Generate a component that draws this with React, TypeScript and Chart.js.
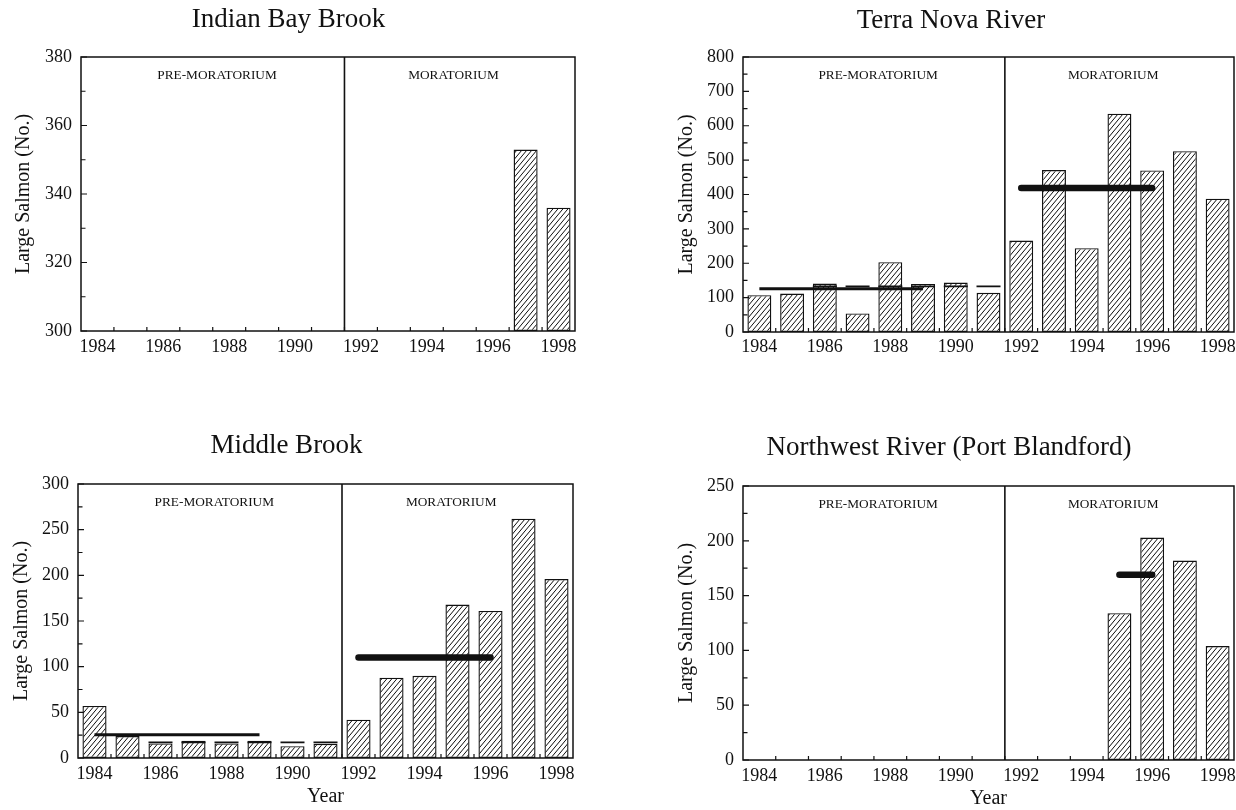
import { useEffect, useRef } from "react";
import { Chart, registerables } from "chart.js";

Chart.register(...registerables);

const SERIF = "'Liberation Serif', 'Times New Roman', Times, serif";
const INK = "#111";

// ---- categories and labels ----
const years = [
  "1984", "1985", "1986", "1987", "1988", "1989", "1990", "1991",
  "1992", "1993", "1994", "1995", "1996", "1997", "1998",
];
const yearTickLabels = ["1984", "1986", "1988", "1990", "1992", "1994", "1996", "1998"];
const periodLabels = ["PRE-MORATORIUM", "MORATORIUM"];
const lastPreMoratoriumYear = "1991";
const yAxisTitle = "Large Salmon (No.)";
const xAxisTitle = "Year";

// ---- large salmon counts per year ----
const indianBayLarge = [null, null, null, null, null, null, null, null, null, null, null, null, null, 353, 336];
const terraNovaLarge = [107, 112, 141, 54, 203, 140, 144, 114, 266, 471, 244, 635, 470, 526, 388];
const middleBrookLarge = [57, 24, 16, 19, 16, 19, 13, 15.5, 42, 88, 90, 168, 161, 262, 196];
const northwestLarge = [null, null, null, null, null, null, null, null, null, null, null, 134, 203, 182, 104];

// ---- period means (from year, to year, mean) ----
const terraNovaMeans = [
  { from: "1984", to: "1989", value: 126 },
  { from: "1992", to: "1996", value: 419 },
];
const middleBrookMeans = [
  { from: "1984", to: "1989", value: 25.5 },
  { from: "1992", to: "1996", value: 110 },
];
const northwestMeans = [{ from: "1995", to: "1996", value: 169 }];

// 1986-1991 mean, marked on each of those years
const lateYears = ["1986", "1987", "1988", "1989", "1990", "1991"];
const terraNovaLateMean = 133;
const middleBrookLateMean = 17;

// ---- value axes: [min, max, step] ----
const indianBayAxis = [300, 380, 20];
const terraNovaAxis = [0, 800, 100];
const middleBrookAxis = [0, 300, 50];
const northwestAxis = [0, 250, 50];

type Mean = { from: string; to: string; value: number };
type Panel = {
  id: string;
  title: string;
  counts: (number | null)[];
  axis: number[];
  means: Mean[];
  lateMean?: number;
  showYear: boolean;
  // layout (page pixels)
  box: { x: number; y: number; w: number; h: number };
  area: { l: number; t: number; r: number; b: number };
  titleY: number;
  yTitleX: number;
  xLabelY: number;
  yearY?: number;
};

const panels: Panel[] = [
  {
    id: "indian",
    title: "Indian Bay Brook",
    counts: indianBayLarge,
    axis: indianBayAxis,
    means: [],
    showYear: false,
    box: { x: 2, y: 0, w: 600, h: 400 },
    area: { l: 81, t: 57, r: 575, b: 331 },
    titleY: 19.5,
    yTitleX: 23.3,
    xLabelY: 347,
  },
  {
    id: "terra",
    title: "Terra Nova River",
    counts: terraNovaLarge,
    axis: terraNovaAxis,
    means: terraNovaMeans,
    lateMean: terraNovaLateMean,
    showYear: false,
    box: { x: 668, y: 0, w: 568, h: 400 },
    area: { l: 743, t: 57, r: 1234, b: 332 },
    titleY: 20.5,
    yTitleX: 686.7,
    xLabelY: 347,
  },
  {
    id: "middle",
    title: "Middle Brook",
    counts: middleBrookLarge,
    axis: middleBrookAxis,
    means: middleBrookMeans,
    lateMean: middleBrookLateMean,
    showYear: true,
    box: { x: 0, y: 405, w: 600, h: 405 },
    area: { l: 78, t: 484, r: 573, b: 758 },
    titleY: 446,
    yTitleX: 21.7,
    xLabelY: 774.5,
    yearY: 797,
  },
  {
    id: "northwest",
    title: "Northwest River (Port Blandford)",
    counts: northwestLarge,
    axis: northwestAxis,
    means: northwestMeans,
    showYear: true,
    box: { x: 664, y: 405, w: 572, h: 405 },
    area: { l: 743, t: 486, r: 1234, b: 760 },
    titleY: 448,
    yTitleX: 686.7,
    xLabelY: 776.5,
    yearY: 798.5,
  },
];

// Diagonal "/" hatch used as the bar fill
function makeHatch(ctxSource: HTMLCanvasElement): CanvasPattern | string {
  const tile = document.createElement("canvas");
  const w = 5;
  const h = 6;
  tile.width = w;
  tile.height = h;
  const g = tile.getContext("2d");
  if (!g) return "#fff";
  g.fillStyle = "#fff";
  g.fillRect(0, 0, w, h);
  g.strokeStyle = "#000";
  g.lineWidth = 0.95;
  g.beginPath();
  // lines y = n*h - (h/w)*x, extended past the tile so the joins are seamless
  for (let n = 0; n <= 2; n++) {
    g.moveTo(-w, (n + 1) * h);
    g.lineTo(2 * w, (n - 2) * h);
  }
  g.stroke();
  const ctx = ctxSource.getContext("2d");
  const p = ctx ? ctx.createPattern(tile, "repeat") : null;
  return p || "#fff";
}

// Frame, inward tick marks, period divider and period names
const framePlugin = {
  id: "salmonFrame",
  afterDraw(chart: any) {
    const { ctx, chartArea: a } = chart;
    const xs = chart.scales.x;
    const ys = chart.scales.y;
    ctx.save();
    ctx.strokeStyle = INK;
    ctx.lineWidth = 1.5;
    ctx.strokeRect(a.left, a.top, a.right - a.left, a.bottom - a.top);

    ctx.lineWidth = 1.2;
    ctx.beginPath();
    const vals: number[] = ys.ticks.map((t: any) => t.value);
    vals.forEach((v) => {
      const py = ys.getPixelForValue(v);
      ctx.moveTo(a.left, py);
      ctx.lineTo(a.left + 6, py);
    });
    for (let i = 0; i < vals.length - 1; i++) {
      const py = ys.getPixelForValue((vals[i] + vals[i + 1]) / 2);
      ctx.moveTo(a.left, py);
      ctx.lineTo(a.left + 4.5, py);
    }
    for (let i = 0; i < years.length - 1; i++) {
      const px = (xs.getPixelForValue(i) + xs.getPixelForValue(i + 1)) / 2;
      ctx.moveTo(px, a.bottom);
      ctx.lineTo(px, a.bottom - 4);
    }
    ctx.stroke();

    const k = years.indexOf(lastPreMoratoriumYear);
    const sx = (xs.getPixelForValue(k) + xs.getPixelForValue(k + 1)) / 2;
    ctx.lineWidth = 1.6;
    ctx.beginPath();
    ctx.moveTo(sx, a.top);
    ctx.lineTo(sx, a.bottom);
    ctx.stroke();

    ctx.fillStyle = INK;
    ctx.font = `13.3px ${SERIF}`;
    ctx.textAlign = "center";
    ctx.textBaseline = "middle";
    ctx.fillText(periodLabels[0], xs.getPixelForValue(3.63), a.top + 18.5);
    ctx.fillText(periodLabels[1], xs.getPixelForValue(10.81), a.top + 18.5);
    ctx.restore();
  },
};

function buildConfig(p: Panel, hatch: CanvasPattern | string): any {
  const { box, area } = p;
  const T = area.t - box.y;
  const B = area.b - box.y;
  const titleLine = 27 * 1.2;
  const titlePadTop = p.titleY - box.y - titleLine / 2;
  const titlePadBottom = T - titlePadTop - titleLine;
  const yTitlePad = p.yTitleX - box.x - 12;
  const yAxisWidth = area.l - box.x;
  const xAxisHeight = box.h - B;
  const xTickPad = p.xLabelY - area.b - 10.8;
  const yearPad = p.yearY !== undefined ? box.h - (p.yearY - box.y) - 12 : 0;
  const [yMin, yMax, yStep] = p.axis;

  const meanSets = p.means.map((m) => {
    const post = years.indexOf(m.from) > years.indexOf(lastPreMoratoriumYear);
    return {
      type: "line",
      data: [
        { x: m.from, y: m.value },
        { x: m.to, y: m.value },
      ],
      borderColor: INK,
      borderWidth: post ? 6.5 : 3,
      borderCapStyle: post ? "round" : "butt",
      pointRadius: 0,
      pointHoverRadius: 0,
      fill: false,
      tension: 0,
      order: 0,
    };
  });

  const lateSets =
    p.lateMean !== undefined
      ? [
          {
            type: "line",
            data: lateYears.map((y) => ({ x: y, y: p.lateMean })),
            showLine: false,
            pointStyle: "line",
            pointRadius: 12,
            pointHoverRadius: 12,
            pointBorderWidth: 1.8,
            pointBorderColor: INK,
            pointBackgroundColor: INK,
            order: 0,
          },
        ]
      : [];

  return {
    type: "bar",
    data: {
      labels: years,
      datasets: [
        ...meanSets,
        ...lateSets,
        {
          type: "bar",
          data: p.counts,
          base: yMin,
          backgroundColor: hatch,
          borderColor: INK,
          borderWidth: 1.4,
          borderSkipped: false,
          barPercentage: 0.73,
          categoryPercentage: 1,
          order: 1,
        },
      ],
    },
    options: {
      responsive: false,
      animation: false,
      devicePixelRatio: 1,
      events: [],
      layout: {
        autoPadding: false,
        padding: { left: 0, top: 0, right: box.x + box.w - area.r, bottom: 0 },
      },
      plugins: {
        legend: { display: false },
        tooltip: { enabled: false },
        title: {
          display: true,
          text: p.title,
          color: INK,
          font: { family: SERIF, size: 27, weight: "normal", lineHeight: 1.2 },
          padding: { top: titlePadTop, bottom: titlePadBottom },
        },
      },
      scales: {
        x: {
          type: "category",
          offset: true,
          grid: { display: false, drawTicks: false },
          border: { display: false },
          ticks: {
            color: INK,
            font: { family: SERIF, size: 18, lineHeight: 1.2 },
            padding: xTickPad,
            autoSkip: false,
            maxRotation: 0,
            minRotation: 0,
            callback: (_v: any, i: number) =>
              yearTickLabels.includes(years[i]) ? years[i] : "",
          },
          title: {
            display: p.showYear,
            text: xAxisTitle,
            color: INK,
            font: { family: SERIF, size: 20, lineHeight: 1.2 },
            padding: { top: 0, bottom: yearPad },
          },
          afterFit: (s: any) => {
            s.height = xAxisHeight;
            s.paddingLeft = 0;
            s.paddingRight = 0;
          },
        },
        y: {
          min: yMin,
          max: yMax,
          grid: { display: false, drawTicks: false },
          border: { display: false },
          ticks: {
            stepSize: yStep,
            color: INK,
            font: { family: SERIF, size: 18, lineHeight: 1.2 },
            padding: 9,
          },
          title: {
            display: true,
            text: yAxisTitle,
            color: INK,
            font: { family: SERIF, size: 20, lineHeight: 1.2 },
            padding: { top: yTitlePad, bottom: 0 },
          },
          afterFit: (s: any) => {
            s.width = yAxisWidth;
            s.paddingTop = 0;
            s.paddingBottom = 0;
          },
        },
      },
    },
    plugins: [framePlugin],
  };
}

function SalmonPanel({ panel }: { panel: Panel }) {
  const ref = useRef<HTMLCanvasElement>(null);
  useEffect(() => {
    const canvas = ref.current;
    if (!canvas) return;
    const chart = new Chart(canvas, buildConfig(panel, makeHatch(canvas)));
    return () => chart.destroy();
  }, [panel]);
  const { x, y, w, h } = panel.box;
  return (
    <canvas
      ref={ref}
      width={w}
      height={h}
      style={{ position: "absolute", left: x, top: y, width: w, height: h }}
    />
  );
}

export default function App() {
  return (
    <div
      style={{
        position: "fixed",
        left: 0,
        top: 0,
        width: 1236,
        height: 810,
        background: "#fff",
        overflow: "hidden",
      }}
    >
      {panels.map((p) => (
        <SalmonPanel key={p.id} panel={p} />
      ))}
    </div>
  );
}
